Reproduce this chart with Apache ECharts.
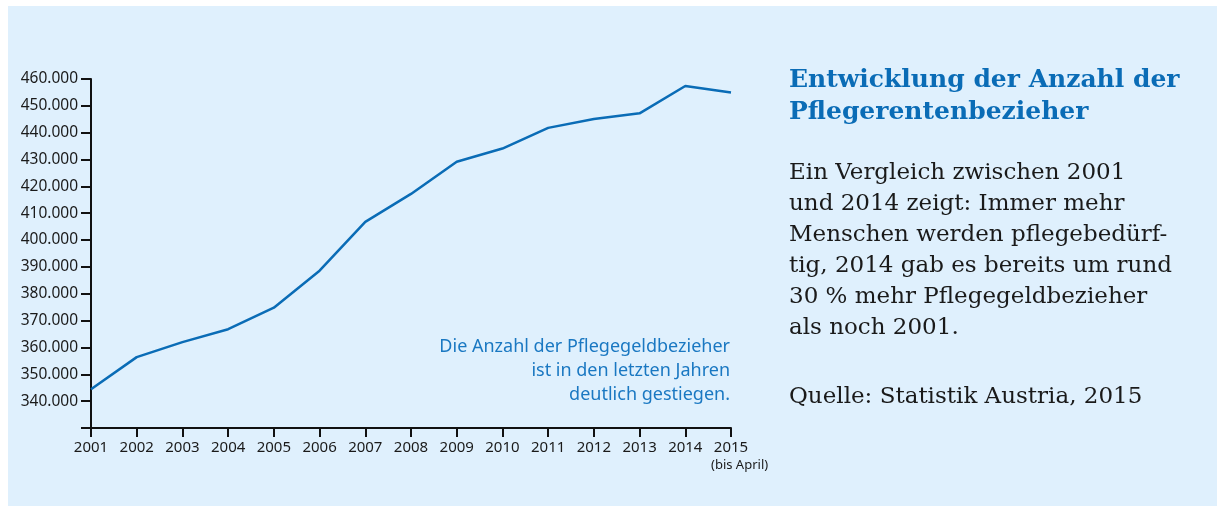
<!DOCTYPE html>
<html>
<head>
<meta charset="utf-8">
<script src="https://cdn.jsdelivr.net/npm/echarts@6/dist/echarts.min.js"></script>
<style>
  html, body { margin: 0; padding: 0; background: #ffffff; }
  .panel { position: absolute; left: 8px; top: 6px; width: 1209px; height: 500px; background: #dff0fd; }
  #chart { position: absolute; left: 0; top: 0; width: 1217px; height: 506px; }
</style>
</head>
<body>
<div class="panel"></div>
<div id="chart"></div>
<script>
// Jahre und Anzahl der Pflegegeldbezieher
const years = ['2001', '2002', '2003', '2004', '2005', '2006', '2007', '2008',
  '2009', '2010', '2011', '2012', '2013', '2014', '2015']
const recipients = [344400, 356400, 362000, 366800, 374800, 388600, 406800, 417200,
  429200, 434100, 441800, 445100, 447200, 457400, 455000]

const yMin = 330000
const yMax = 460000
const yStep = 10000

const noteLines = ['Die Anzahl der Pflegegeldbezieher', 'ist in den letzten Jahren', 'deutlich gestiegen.']
const titleLines = ['Entwicklung der Anzahl der', 'Pflegerentenbezieher']
const bodyLines = ['Ein Vergleich zwischen 2001', 'und 2014 zeigt: Immer mehr', 'Menschen werden pflegebedürf-',
  'tig, 2014 gab es bereits um rund', '30 % mehr Pflegegeldbezieher', 'als noch 2001.']
const sourceText = 'Quelle: Statistik Austria, 2015'

const blue = '#0a6cb6'
const sans = '"Noto Sans", "Open Sans", sans-serif'
const serif = '"DejaVu Serif", serif'

const myChart = echarts.init(document.getElementById('chart'))

// 1.000er-Trennzeichen wie im Original
function fmt(v) {
  if (v === yMin) return ''
  return String(v).replace(/\B(?=(\d{3})+(?!\d))/g, '.')
}

const graphics = []
noteLines.forEach((t, i) => {
  graphics.push({
    type: 'text', right: 1217 - 730, top: 338 + i * 24,
    style: {text: t, fill: '#1a78c2', font: '18px ' + sans, textAlign: 'right'}
  })
})
titleLines.forEach((t, i) => {
  graphics.push({
    type: 'text', left: 789, top: 68 + i * 32,
    style: {text: t, fill: blue, font: 'bold 25px ' + serif}
  })
})
bodyLines.forEach((t, i) => {
  graphics.push({
    type: 'text', left: 789, top: 162 + i * 31,
    style: {text: t, fill: '#1a1a1a', font: '23px ' + serif}
  })
})
graphics.push({
  type: 'text', left: 789, top: 386,
  style: {text: sourceText, fill: '#1a1a1a', font: '23px ' + serif}
})
graphics.push({
  type: 'text', left: 711, top: 459,
  style: {text: '(bis April)', fill: '#1a1a1a', font: '13px ' + sans}
})

const options = {
  animation: false,
  grid: {left: 91, right: 486, top: 79, bottom: 78},
  xAxis: {
    type: 'category',
    data: years,
    boundaryGap: false,
    axisLine: {lineStyle: {color: '#111', width: 2}},
    axisTick: {length: 9, lineStyle: {color: '#111', width: 2}},
    axisLabel: {color: '#1a1a1a', fontSize: 15, fontFamily: sans, margin: 12, interval: 0},
  },
  yAxis: {
    type: 'value',
    min: yMin,
    max: yMax,
    interval: yStep,
    splitLine: {show: false},
    axisLine: {show: true, lineStyle: {color: '#111', width: 2}},
    axisTick: {show: true, length: 10, lineStyle: {color: '#111', width: 2}},
    axisLabel: {color: '#1a1a1a', fontSize: 15.5, fontFamily: sans, margin: 13, formatter: fmt},
  },
  series: [
    {
      type: 'line',
      data: recipients,
      symbol: 'none',
      lineStyle: {color: blue, width: 2.5},
    },
  ],
  graphic: graphics,
}

myChart.setOption(options)
</script>
</body>
</html>
